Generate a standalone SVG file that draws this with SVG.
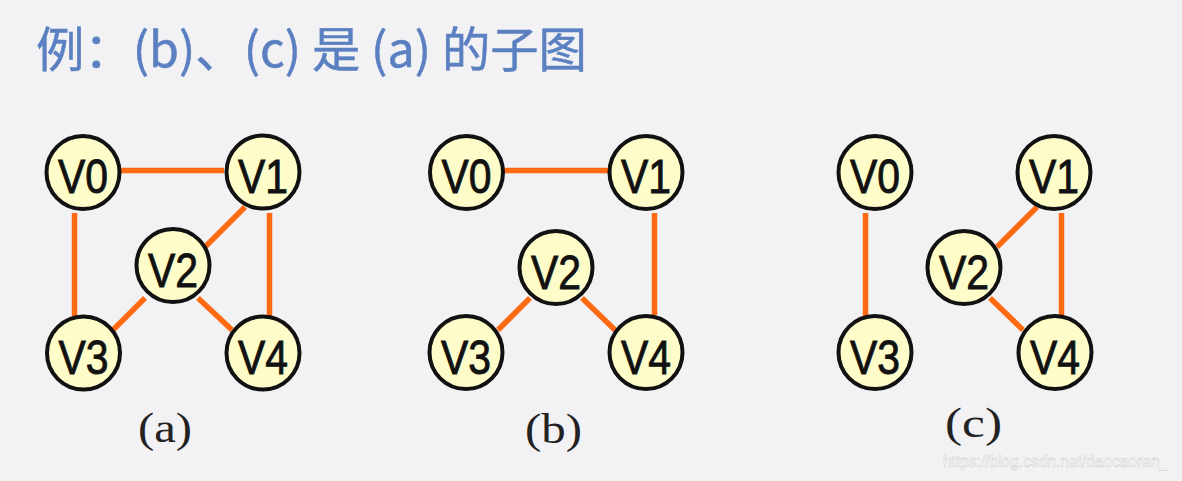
<svg xmlns="http://www.w3.org/2000/svg" width="1182" height="481" viewBox="0 0 1182 481">
<style>
.bg{fill:#f2f1f3}
.title{font-family:"Noto Sans CJK SC","Liberation Sans",sans-serif;font-size:48px;fill:#5b80c1;stroke:#5b80c1;stroke-width:0.5}
.node circle{fill:#fefdc9;stroke:#111;stroke-width:4}
.node text{font-family:"Liberation Sans",Arial,sans-serif;font-size:48px;fill:#111;stroke:#111;stroke-width:0.9;text-anchor:middle}
.edges line{stroke:#ff6a12;stroke-width:5.5;stroke-linecap:butt}
.cap{font-family:"Liberation Serif","Times New Roman",serif;font-size:42px;fill:#222;text-anchor:middle}
.wm{font-family:"Liberation Sans",Arial,sans-serif;font-size:17px;fill:#ffffff;stroke:#cccccc;stroke-width:0.5}
</style>
<rect class="bg" x="0" y="0" width="1182" height="481"/>
<text class="title" x="36" y="67" textLength="551" lengthAdjust="spacingAndGlyphs">例：(b)、(c) 是 (a) 的子图</text>

<g id="connectors" class="edges">
  <!-- (a) -->
  <line x1="121" y1="170.5" x2="224" y2="170.5"/>
  <line x1="74.5" y1="213" x2="74.5" y2="316"/>
  <line x1="269.5" y1="213" x2="269.5" y2="316"/>
  <line x1="245" y1="207" x2="205" y2="247"/>
  <line x1="145" y1="298" x2="113" y2="330"/>
  <line x1="198" y1="298" x2="232" y2="330"/>
  <!-- (b) -->
  <line x1="504" y1="170.5" x2="608" y2="170.5"/>
  <line x1="654.5" y1="213" x2="654.5" y2="315"/>
  <line x1="530" y1="298" x2="498" y2="330"/>
  <line x1="582" y1="298" x2="615" y2="330"/>
  <!-- (c) -->
  <line x1="865.5" y1="213" x2="865.5" y2="316"/>
  <line x1="1061.5" y1="213" x2="1061.5" y2="316"/>
  <line x1="1037" y1="207" x2="997" y2="247"/>
  <line x1="990" y1="298" x2="1023" y2="330"/>
</g>

<!-- graph (a) -->
<g id="a-v0" class="node"><circle cx="83" cy="172.5" r="36.5"/><text x="83" y="193" textLength="50" lengthAdjust="spacingAndGlyphs">V0</text></g>
<g id="a-v1" class="node"><circle cx="263" cy="172" r="36.5"/><text x="263" y="193" textLength="50" lengthAdjust="spacingAndGlyphs">V1</text></g>
<g id="a-v2" class="node"><circle cx="173" cy="265.5" r="36.5"/><text x="173" y="287" textLength="50" lengthAdjust="spacingAndGlyphs">V2</text></g>
<g id="a-v3" class="node"><circle cx="83.5" cy="353" r="36.5"/><text x="83.5" y="374" textLength="50" lengthAdjust="spacingAndGlyphs">V3</text></g>
<g id="a-v4" class="node"><circle cx="263" cy="353" r="36.5"/><text x="263" y="374" textLength="50" lengthAdjust="spacingAndGlyphs">V4</text></g>

<!-- graph (b) -->
<g id="b-v0" class="node"><circle cx="466.5" cy="172.5" r="36.5"/><text x="466.5" y="193" textLength="50" lengthAdjust="spacingAndGlyphs">V0</text></g>
<g id="b-v1" class="node"><circle cx="646" cy="172.5" r="36.5"/><text x="646" y="193" textLength="50" lengthAdjust="spacingAndGlyphs">V1</text></g>
<g id="b-v2" class="node"><circle cx="556" cy="267.5" r="36.5"/><text x="556" y="289" textLength="50" lengthAdjust="spacingAndGlyphs">V2</text></g>
<g id="b-v3" class="node"><circle cx="466" cy="352.5" r="36.5"/><text x="466" y="374" textLength="50" lengthAdjust="spacingAndGlyphs">V3</text></g>
<g id="b-v4" class="node"><circle cx="646" cy="352.5" r="36.5"/><text x="646" y="374" textLength="50" lengthAdjust="spacingAndGlyphs">V4</text></g>

<!-- graph (c) -->
<g id="c-v0" class="node"><circle cx="875" cy="172.5" r="36.5"/><text x="875" y="193" textLength="50" lengthAdjust="spacingAndGlyphs">V0</text></g>
<g id="c-v1" class="node"><circle cx="1054" cy="172.5" r="36.5"/><text x="1054" y="193" textLength="50" lengthAdjust="spacingAndGlyphs">V1</text></g>
<g id="c-v2" class="node"><circle cx="964" cy="267.5" r="36.5"/><text x="964" y="289" textLength="50" lengthAdjust="spacingAndGlyphs">V2</text></g>
<g id="c-v3" class="node"><circle cx="875" cy="352.5" r="36.5"/><text x="875" y="374" textLength="50" lengthAdjust="spacingAndGlyphs">V3</text></g>
<g id="c-v4" class="node"><circle cx="1055" cy="352.5" r="36.5"/><text x="1055" y="374" textLength="50" lengthAdjust="spacingAndGlyphs">V4</text></g>

<text class="cap" x="165" y="442" textLength="54" lengthAdjust="spacingAndGlyphs">(a)</text>
<text class="cap" x="553.5" y="443" textLength="57" lengthAdjust="spacingAndGlyphs">(b)</text>
<text class="cap" x="973.5" y="437" textLength="57" lengthAdjust="spacingAndGlyphs">(c)</text>

<text class="wm" x="943" y="467" textLength="225" lengthAdjust="spacingAndGlyphs">https://blog.csdn.net/daocaoren_</text>
</svg>
